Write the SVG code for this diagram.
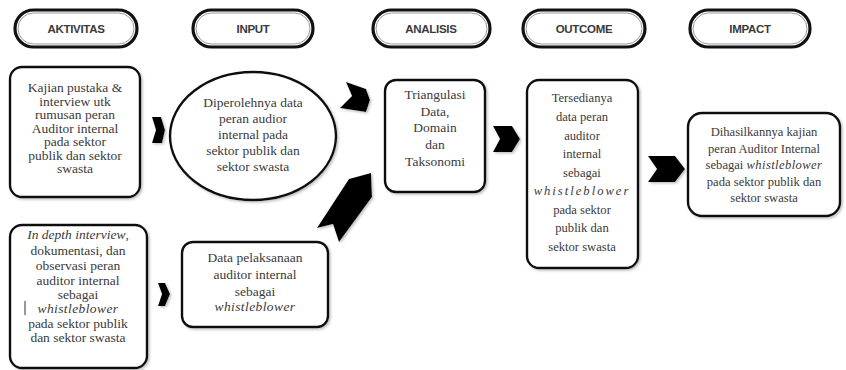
<svg xmlns="http://www.w3.org/2000/svg" width="846" height="370" viewBox="0 0 846 370">
<defs>
<style>
.pill{fill:#fff;stroke:#111;stroke-width:3.2}
.pin{fill:none;stroke:#999;stroke-width:1}
.hd{font-family:"Liberation Sans",Arial,sans-serif;font-weight:bold;font-size:11.5px;fill:#3a3a3a;text-anchor:middle;letter-spacing:-0.3px}
.box{fill:#fff;stroke:#111;stroke-width:2.4}
.tx{font-family:"Liberation Serif","Times New Roman",serif;font-size:13.5px;fill:#3a3a3a;text-anchor:middle}
.sm{font-size:12.6px}
.it{font-style:italic;letter-spacing:0.4px}
.chev{fill:#000}
</style>
<filter id="shd" x="-20%" y="-20%" width="140%" height="140%">
<feDropShadow dx="1.5" dy="1.5" stdDeviation="1" flood-color="#999" flood-opacity="0.6"/>
</filter>
</defs>
<rect width="846" height="370" fill="#fff"/>

<g id="hdr-aktivitas">
<rect class="pill" x="15" y="10" width="122" height="37" rx="18.5"/>
<rect class="pin" x="18" y="13" width="116" height="31" rx="15.5"/>
<text class="hd" x="76" y="33">AKTIVITAS</text>
</g>
<g id="hdr-input">
<rect class="pill" x="193" y="10" width="120" height="37" rx="18.5"/>
<rect class="pin" x="196" y="13" width="114" height="31" rx="15.5"/>
<text class="hd" x="253" y="33">INPUT</text>
</g>
<g id="hdr-analisis">
<rect class="pill" x="373" y="10" width="117" height="37" rx="18.5"/>
<rect class="pin" x="376" y="13" width="111" height="31" rx="15.5"/>
<text class="hd" x="431" y="33">ANALISIS</text>
</g>
<g id="hdr-outcome">
<rect class="pill" x="523" y="10" width="122" height="37" rx="18.5"/>
<rect class="pin" x="526" y="13" width="116" height="31" rx="15.5"/>
<text class="hd" x="584" y="33">OUTCOME</text>
</g>
<g id="hdr-impact">
<rect class="pill" x="690" y="10" width="120" height="37" rx="18.5"/>
<rect class="pin" x="693" y="13" width="114" height="31" rx="15.5"/>
<text class="hd" x="750" y="33">IMPACT</text>
</g>

<g id="akt1">
<rect class="box" x="10" y="67" width="130" height="130" rx="12" filter="url(#shd)"/>
<text class="tx" x="75" y="92">Kajian pustaka &amp;</text>
<text class="tx" x="75" y="105.5">interview utk</text>
<text class="tx" x="75" y="119">rumusan peran</text>
<text class="tx" x="75" y="132.5">Auditor internal</text>
<text class="tx" x="75" y="146">pada sektor</text>
<text class="tx" x="75" y="159.5">publik dan sektor</text>
<text class="tx" x="75" y="173">swasta</text>
</g>

<g id="akt2">
<rect class="box" x="10" y="225" width="137" height="143" rx="12" filter="url(#shd)"/>
<text class="tx" x="78" y="239"><tspan font-style="italic">In depth interview</tspan>,</text>
<text class="tx" x="78" y="255">dokumentasi, dan</text>
<text class="tx" x="78" y="270">observasi peran</text>
<text class="tx" x="78" y="285">auditor internal</text>
<text class="tx" x="78" y="299">sebagai</text>
<text class="tx it" x="78" y="313">whistleblower</text>
<text class="tx" x="78" y="328">pada sektor publik</text>
<text class="tx" x="78" y="342">dan sektor swasta</text>
<line x1="25" y1="301" x2="25" y2="315" stroke="#333" stroke-width="1"/>
</g>

<g id="input1">
<ellipse class="box" cx="253" cy="136" rx="83" ry="64" filter="url(#shd)"/>
<text class="tx" x="253" y="107">Diperolehnya data</text>
<text class="tx" x="253" y="123">peran audior</text>
<text class="tx" x="253" y="139">internal pada</text>
<text class="tx" x="253" y="155">sektor publik dan</text>
<text class="tx" x="253" y="171">sektor swasta</text>
</g>

<g id="input2">
<rect class="box" x="182" y="242" width="146" height="85" rx="11" filter="url(#shd)"/>
<text class="tx" x="255" y="262">Data pelaksanaan</text>
<text class="tx" x="255" y="279">auditor internal</text>
<text class="tx" x="255" y="296">sebagai</text>
<text class="tx it" x="255" y="311">whistleblower</text>
</g>

<g id="analisis">
<rect class="box" x="385" y="80" width="100" height="112" rx="11" filter="url(#shd)"/>
<text class="tx" x="435" y="99">Triangulasi</text>
<text class="tx" x="435" y="116">Data,</text>
<text class="tx" x="435" y="132">Domain</text>
<text class="tx" x="435" y="149">dan</text>
<text class="tx" x="435" y="166">Taksonomi</text>
</g>

<g id="outcome">
<rect class="box" x="527" y="80" width="111" height="188" rx="12" filter="url(#shd)"/>
<text class="tx sm" x="582" y="102">Tersedianya</text>
<text class="tx sm" x="582" y="121">data peran</text>
<text class="tx sm" x="582" y="140">auditor</text>
<text class="tx sm" x="582" y="158">internal</text>
<text class="tx sm" x="582" y="177">sebagai</text>
<text class="tx sm it" x="582" y="195" style="letter-spacing:2px">whistleblower</text>
<text class="tx sm" x="582" y="214">pada sektor</text>
<text class="tx sm" x="582" y="232">publik dan</text>
<text class="tx sm" x="582" y="251">sektor swasta</text>
</g>

<g id="impact">
<rect class="box" x="688" y="113" width="152" height="103" rx="14" filter="url(#shd)"/>
<text class="tx sm" x="764" y="136">Dihasilkannya kajian</text>
<text class="tx sm" x="764" y="153">peran Auditor Internal</text>
<text class="tx sm" x="764" y="169">sebagai <tspan class="it">whistleblower</tspan></text>
<text class="tx sm" x="764" y="186">pada sektor publik dan</text>
<text class="tx sm" x="764" y="202">sektor swasta</text>
</g>

<g id="connectors" filter="url(#shd)">
<polygon class="chev" points="152,117 161,117 165,130 162,143 152,143 156,130"/>
<polygon class="chev" points="158,283 165,283 170,294 165,306 158,306 162,294"/>
<polygon class="chev" points="346,82 366,89 370,100 366,112 340,108 352,96"/>
<polygon class="chev" points="349,179 371,173 372,197 339,242 333,224 317,228"/>
<polygon class="chev" points="493,126 512,126 520,139 512,152 493,152 500,139"/>
<polygon class="chev" points="648,156 675,156 685,169 675,182 648,182 657,169"/>
</g>
</svg>
